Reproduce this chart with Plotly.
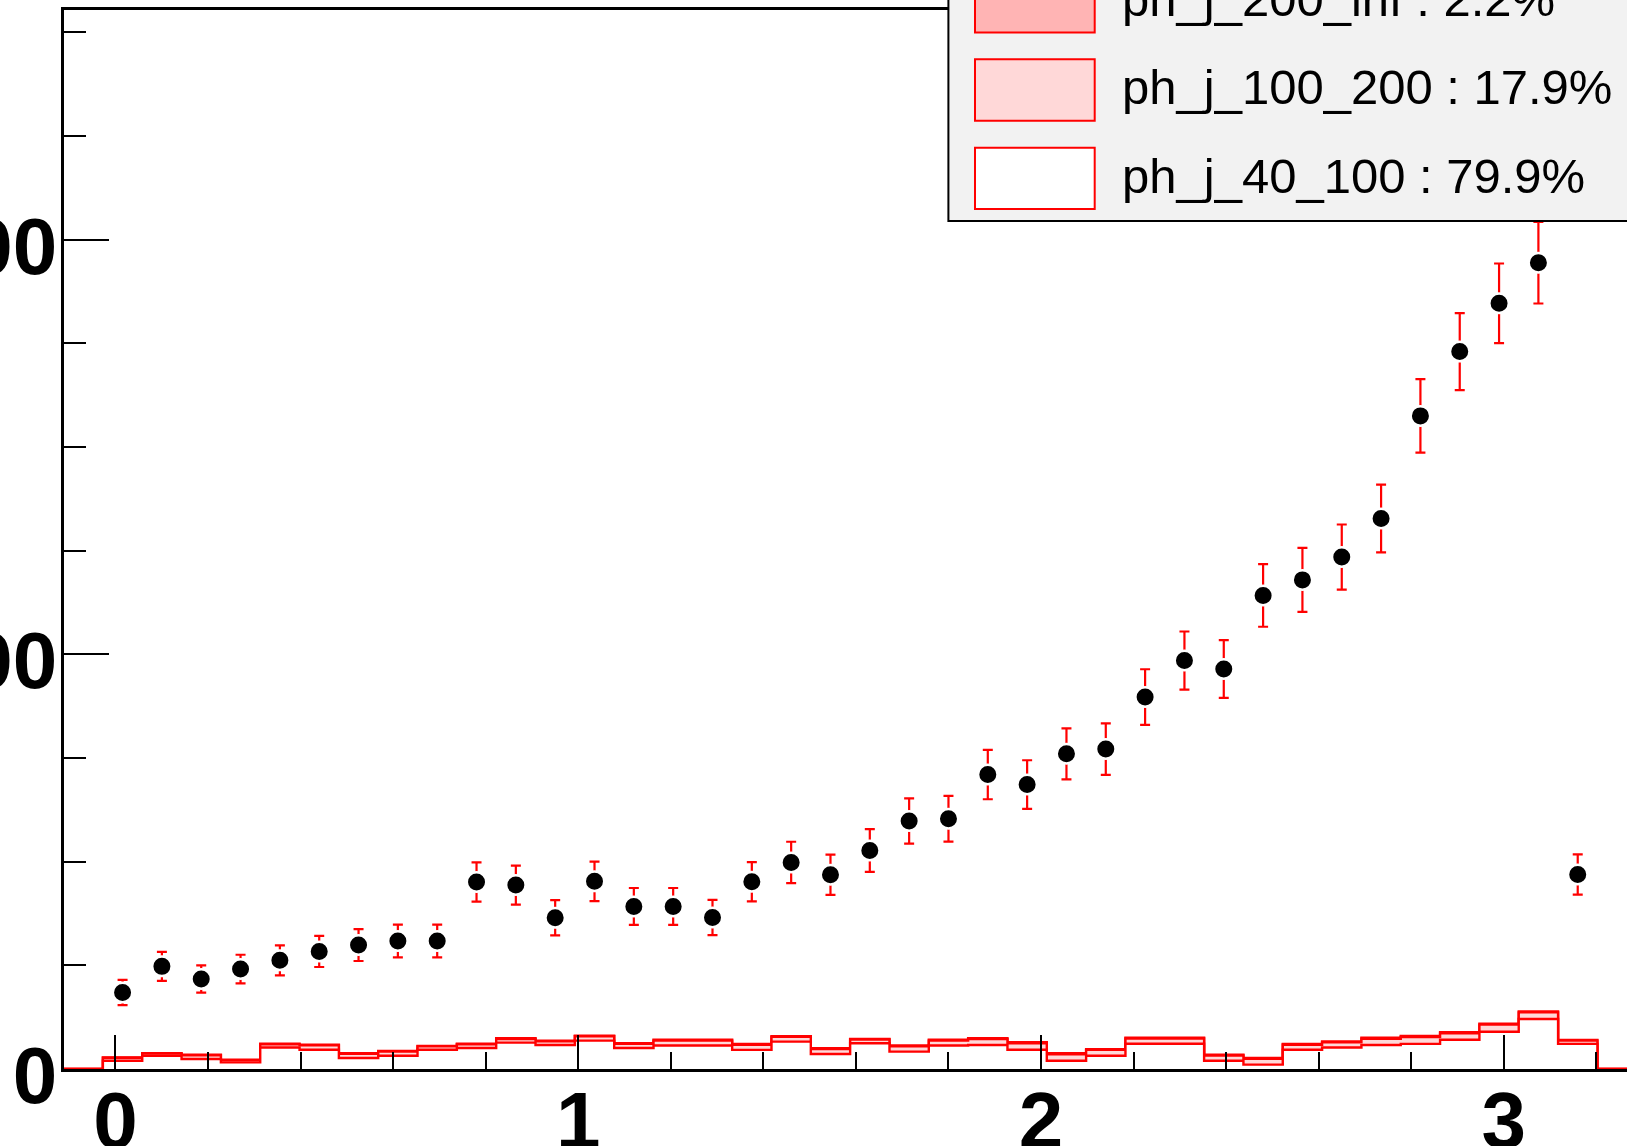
import numpy as np
import plotly.graph_objects as go

# ---------------- data ----------------
bin_lo = -0.027
bin_w = 0.08498

data_y = [36.9, 49.5, 43.4, 48.2, 52.4, 56.7, 59.8, 61.7, 61.7, 90.2,
          88.7, 72.9, 90.5, 78.4, 78.4, 73.1, 90.3, 99.6, 93.7, 105.4,
          119.6, 120.7, 142.0, 137.2, 152.0, 154.3, 179.4, 197.0, 192.9, 228.4,
          235.9, 246.9, 265.5, 315.0, 346.0, 369.3, 388.9, 93.8]
data_err = [6.1, 7.0, 6.6, 6.9, 7.2, 7.5, 7.7, 7.9, 7.9, 9.5,
            9.4, 8.5, 9.5, 8.9, 8.9, 8.5, 9.5, 10.0, 9.7, 10.3,
            10.9, 11.0, 11.9, 11.7, 12.3, 12.4, 13.4, 14.0, 13.9, 15.1,
            15.4, 15.7, 16.3, 17.7, 18.6, 19.2, 19.7, 9.7]

h_40_100 = [4.0, 6.4, 4.8, 3.2, 10.4, 9.3, 5.3, 6.4, 9.3, 10.1,
            12.7, 11.6, 13.7, 10.1, 11.3, 11.3, 9.2, 13.2, 7.2, 12.4,
            8.4, 11.3, 11.6, 9.3, 4.0, 6.4, 12.2, 12.2, 4.0, 2.1,
            9.3, 10.4, 11.6, 12.1, 14.1, 18.0, 24.1, 12.1]
h_100_200 = [1.4, 1.0, 1.8, 1.1, 1.5, 2.1, 2.0, 2.0, 1.6, 1.8,
             1.8, 1.8, 2.1, 2.1, 2.4, 2.4, 2.5, 2.3, 2.4, 1.8,
             2.5, 2.4, 2.8, 3.1, 3.1, 2.8, 2.5, 2.5, 2.5, 2.8,
             2.4, 2.5, 3.0, 3.3, 3.1, 3.4, 3.2, 1.6]
h_200_inf = [0.2, 0.2, 0.3, 0.2, 0.3, 0.3, 0.3, 0.3, 0.2, 0.3,
             0.3, 0.3, 0.3, 0.3, 0.4, 0.4, 0.4, 0.3, 0.4, 0.3,
             0.4, 0.4, 0.5, 0.5, 0.5, 0.4, 0.4, 0.4, 0.4, 0.4,
             0.4, 0.4, 0.5, 0.5, 0.5, 0.5, 0.5, 0.3]

legend_labels = ["ph_j_200_inf : 2.2%", "ph_j_100_200 : 17.9%", "ph_j_40_100 : 79.9%"]
legend_fills = ["#ffb4b4", "#ffd8d8", "#ffffff"]

x_tickvals = [0, 1, 2, 3]
y_tickvals = [0, 200, 400]

# ---------------- geometry ----------------
W, H = 1627, 1146
ML, MT = 64, 10
PB = 1069.3
MB = H - PB
plot_w = W - ML
plot_h = PB - MT
x_range = [-0.11106, -0.11106 + plot_w / 462.8]
y_range = [0, plot_h / 2.074]

n = len(data_y)
edges = bin_lo + bin_w * np.arange(n + 1)
centers = bin_lo + bin_w * (np.arange(n) + 0.5)

c1 = np.array(h_40_100)
c2 = c1 + np.array(h_100_200)
c3 = c2 + np.array(h_200_inf)

fig = go.Figure()


def step_trace(cum, fill):
    xs = [x_range[0]] + list(edges[:-1]) + [edges[-1], x_range[1]]
    ys = [0] + list(cum) + [0, 0]
    return go.Scatter(x=xs, y=ys, mode="lines", line=dict(color="#ff0000", width=2.4, shape="hv"),
                      fill="tozeroy", fillcolor=fill, hoverinfo="skip", showlegend=False)


fig.add_trace(step_trace(c3, legend_fills[0]))
fig.add_trace(step_trace(c2, legend_fills[1]))
fig.add_trace(step_trace(c1, legend_fills[2]))

fig.add_trace(go.Scatter(
    x=centers, y=data_y, mode="markers",
    marker=dict(color="black", size=19.5, line=dict(color="white", width=2.5)),
    error_y=dict(type="data", array=data_err, visible=True, color="#ff0000", thickness=2.2, width=5),
    showlegend=False))


def px_x(p):
    return (p - ML) / plot_w


def px_y(p):
    return (PB - p) / plot_h


shapes = []
annotations = []
# legend frame
shapes.append(dict(type="rect", xref="paper", yref="paper", x0=px_x(948.4), x1=px_x(1720),
                   y0=px_y(221), y1=px_y(-60), fillcolor="#f2f2f2", line=dict(color="black", width=2),
                   layer="above"))
row_top = [-29.0, 59.3, 147.7]
box_h = 61.4
text_cy = [-1.0, 87.5, 175.8]
for lab, fc, top, cy in zip(legend_labels, legend_fills, row_top, text_cy):
    shapes.append(dict(type="rect", xref="paper", yref="paper", x0=px_x(975), x1=px_x(1094.7),
                       y0=px_y(top + box_h), y1=px_y(top), fillcolor=fc,
                       line=dict(color="#ff0000", width=2), layer="above"))
    annotations.append(dict(text=lab, xref="paper", yref="paper", x=px_x(1119.5), y=px_y(cy),
                            xanchor="left", yanchor="middle", showarrow=False,
                            font=dict(family="Liberation Sans, Arial", size=49, color="black")))

fig.update_layout(
    width=W, height=H,
    margin=dict(l=ML, r=0, t=MT, b=MB, pad=0, autoexpand=False),
    paper_bgcolor="white", plot_bgcolor="white",
    shapes=shapes, annotations=annotations,
    showlegend=False,
)
fig.update_xaxes(
    range=x_range, showgrid=False, zeroline=False, automargin=False,
    showline=True, linecolor="black", linewidth=2.5, mirror=True,
    ticks="inside", ticklen=34, tickwidth=2.2, tickcolor="black",
    tickvals=x_tickvals, ticktext=[str(v) for v in x_tickvals],
    minor=dict(dtick=0.2, tick0=0, ticks="inside", ticklen=17, tickwidth=2.2, tickcolor="black"),
    tickfont=dict(family="Liberation Sans, Arial", size=80, color="black", weight="bold"),
    ticklabelstandoff=-20,
)
fig.update_yaxes(
    range=y_range, showgrid=False, zeroline=False, automargin=False,
    showline=True, linecolor="black", linewidth=2.5,
    ticks="inside", ticklen=45, tickwidth=2.2, tickcolor="black",
    tickvals=y_tickvals, ticktext=[str(v) for v in y_tickvals],
    minor=dict(dtick=50, tick0=0, ticks="inside", ticklen=22, tickwidth=2.2, tickcolor="black"),
    tickfont=dict(family="Liberation Sans, Arial", size=80, color="black", weight="bold"),
    ticklabelstandoff=-12, ticklabelshift=6,
)

fig.write_html("out.html", config={"displayModeBar": False},
               post_script="document.body.style.margin='0';")
